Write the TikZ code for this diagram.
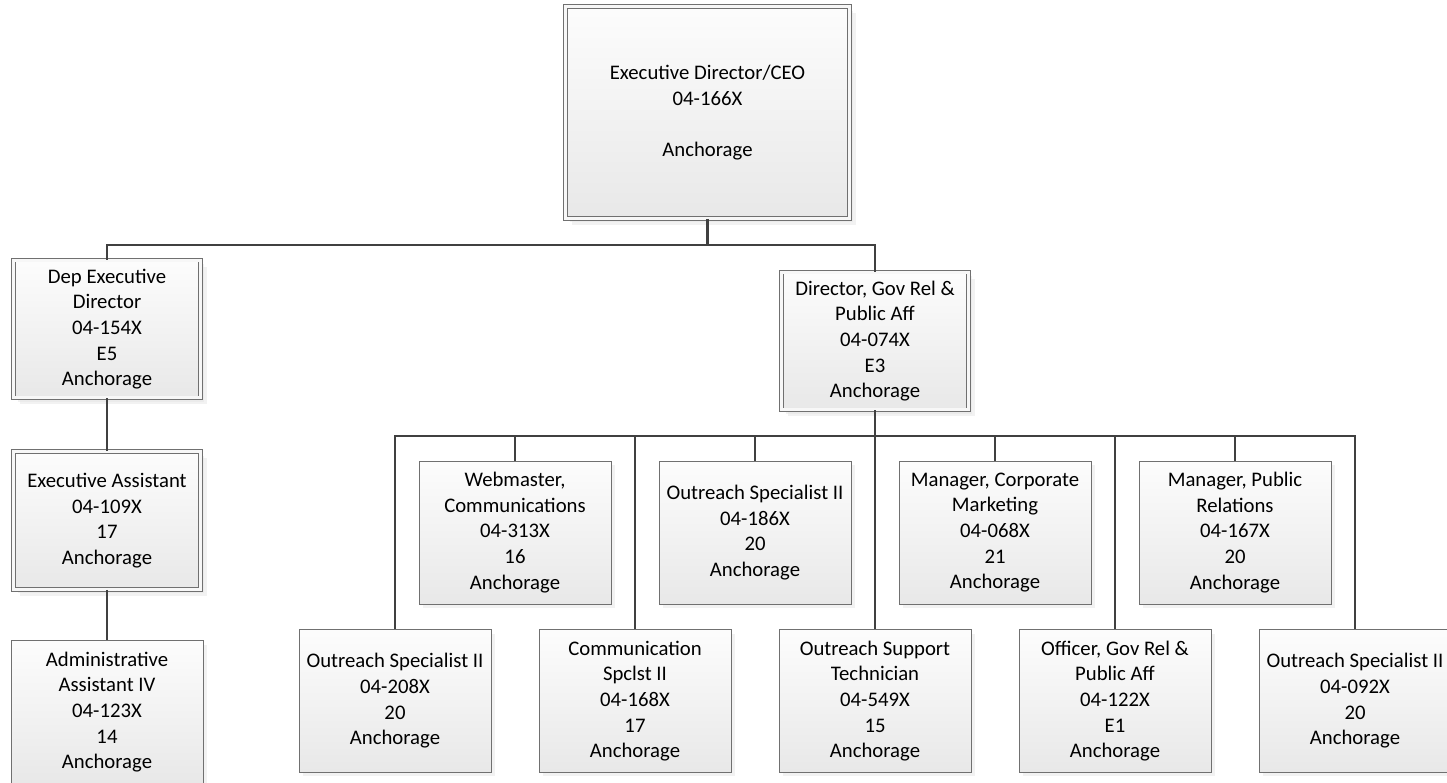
\documentclass[tikz,border=0pt]{standalone}
\usepackage{fontspec}
\setmainfont{Carlito}
\usetikzlibrary{positioning, shadows, calc}
\definecolor{boxgray}{RGB}{112,112,112}
\definecolor{linegray}{RGB}{64,64,64}
\definecolor{fillgray}{RGB}{232,232,232}

\begin{document}
\begin{tikzpicture}[
        x=0.02cm, y=-0.02cm,
        box/.style={rectangle, draw=boxgray, line width=0.55pt, top color=white!99!black, bottom color=fillgray, minimum width=3.84cm, minimum height=2.86cm, align=center, inner sep=0pt, font=\fontsize{11.8}{14.6}\selectfont, drop shadow={shadow xshift=0.08cm, shadow yshift=-0.08cm, fill=black!10}},
        dblbox/.style={box, double=white!97!black, double distance=0.06cm, minimum width=3.74cm, minimum height=2.76cm, drop shadow={shadow xshift=0.13cm, shadow yshift=-0.13cm, fill=black!10}},
        link/.style={draw=linegray, line width=1.4pt}
    ]
        \useasboundingbox (0,0) rectangle (1447,783);

        \node[dblbox, minimum width=5.68cm, minimum height=4.24cm] (ceo) at (707.5,112.5) {Executive Director/CEO\\04-166X\\[14.6pt]Anchorage};

        \node[dblbox] (depdir) at (107,329) {Dep Executive\\Director\\04-154X\\E5\\Anchorage};
        \node[dblbox] (execasst) at (107,520.5) {Executive Assistant\\04-109X\\17\\Anchorage};
        \node[box] (adminasst) at (107,712) {Administrative\\Assistant IV\\04-123X\\14\\Anchorage};

        \node[dblbox] (govrel) at (875,341) {Director, Gov Rel \&\\Public Aff\\04-074X\\E3\\Anchorage};

        \node[box] (webmaster) at (515,532.5) {Webmaster,\\Communications\\04-313X\\16\\Anchorage};
        \node[box] (outreachB) at (755,532.5) {Outreach Specialist II\\04-186X\\20\\Anchorage};
        \node[box] (corpmkt) at (995,532.5) {Manager, Corporate\\Marketing\\04-068X\\21\\Anchorage};
        \node[box] (pubrel) at (1235,532.5) {Manager, Public\\Relations\\04-167X\\20\\Anchorage};

        \node[box] (outreachA) at (395,701) {Outreach Specialist II\\04-208X\\20\\Anchorage};
        \node[box] (commspec) at (635,701) {Communication\\Spclst II\\04-168X\\17\\Anchorage};
        \node[box] (outreachtech) at (875,701) {Outreach Support\\Technician\\04-549X\\15\\Anchorage};
        \node[box] (officer) at (1115,701) {Officer, Gov Rel \&\\Public Aff\\04-122X\\E1\\Anchorage};
        \node[box] (outreachC) at (1355,701) {Outreach Specialist II\\04-092X\\20\\Anchorage};

        \coordinate (topbus) at (707.5,245);
        \coordinate (lowbus) at (875,436);

        \draw[link] (ceo) -- (topbus);
        \draw[link] (depdir) |- (topbus);
        \draw[link] (govrel) |- (topbus);
        \draw[link] (depdir) -- (execasst);
        \draw[link] (execasst) -- (adminasst);
        \draw[link] (govrel) -- (lowbus);
        \foreach \n in {outreachA, webmaster, commspec, outreachB, outreachtech, corpmkt, officer, pubrel, outreachC}
            \draw[link] (\n) |- (lowbus);
    \end{tikzpicture}
\end{document}
